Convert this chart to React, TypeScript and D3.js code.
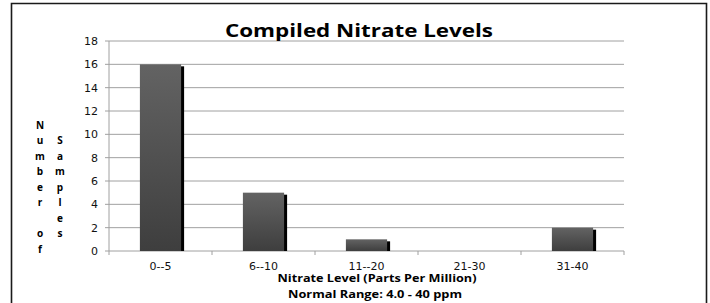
import React from "react";
import * as d3 from "d3";

const categories = ["0--5", "6--10", "11--20", "21-30", "31-40"];
const sampleCounts = [16, 5, 1, 0, 2];
const yTickValues = [0, 2, 4, 6, 8, 10, 12, 14, 16, 18];
const chartTitle = "Compiled Nitrate Levels";
const xTitleLines = ["Nitrate Level (Parts Per Million)", "Normal Range: 4.0 - 40 ppm"];
const yTitleColumns = ["Number of", "Samples"];

const W = 710;
const H = 303;
const plot = { left: 109, right: 624, top: 41, bottom: 251 };

export default function App() {
  const x = d3
    .scaleBand<string>()
    .domain(categories)
    .range([plot.left, plot.right])
    .paddingInner(0.6)
    .paddingOuter(0.3);
  const xBand = d3.scaleBand<string>().domain(categories).range([plot.left, plot.right]);
  const y = d3.scaleLinear().domain([0, 18]).range([plot.bottom, plot.top]);

  const tickFont = "'DejaVu Sans', Verdana, sans-serif";
  const boldFont = "'Open Sans', 'DejaVu Sans', sans-serif";

  const boundaries = categories.map((c) => xBand(c)!).concat([plot.right]);

  // y title stacked letters
  const maxLen = d3.max(yTitleColumns, (s) => s.length)!;
  const rowStep = 15.5;
  const firstRowY = 125;
  const colX = [40, 60];

  return (
    <svg
      width={W}
      height={H}
      style={{ position: "absolute", left: 0, top: 0, background: "#fff" }}
    >
      <defs>
        <linearGradient id="barGrad" x1="0" y1="0" x2="0" y2="1">
          <stop offset="0%" stopColor="#636363" />
          <stop offset="100%" stopColor="#3e3e3e" />
        </linearGradient>
      </defs>
      <rect x={0} y={0} width={W} height={H} fill="#fff" />
      {/* outer frame */}
      <path
        d={`M11.5,${H + 5} L11.5,3.5 L706.5,3.5 L706.5,${H + 5}`}
        fill="none"
        stroke="#1a1a1a"
        strokeWidth={1.6}
      />

      {/* gridlines */}
      {yTickValues.map((t) => (
        <line
          key={"g" + t}
          x1={plot.left}
          x2={plot.right}
          y1={y(t)}
          y2={y(t)}
          stroke="#a0a0a0"
          strokeWidth={1}
        />
      ))}
      {/* y axis */}
      <line x1={plot.left} x2={plot.left} y1={plot.top} y2={plot.bottom} stroke="#a0a0a0" />
      {yTickValues.map((t) => (
        <g key={"yt" + t}>
          <line x1={plot.left - 4} x2={plot.left} y1={y(t)} y2={y(t)} stroke="#a0a0a0" />
          <text
            x={98}
            y={y(t)}
            dy="0.36em"
            textAnchor="end"
            fontFamily={tickFont}
            fontSize={11}
            fill="#111"
          >
            {t}
          </text>
        </g>
      ))}
      {/* x axis ticks */}
      {boundaries.map((b, i) => (
        <line key={"xt" + i} x1={b} x2={b} y1={plot.bottom} y2={plot.bottom + 4} stroke="#a0a0a0" />
      ))}

      {/* bars */}
      {categories.map((c, i) => {
        const v = sampleCounts[i];
        if (v <= 0) return null;
        const bx = x(c)!;
        const bw = x.bandwidth();
        const by = y(v);
        const bh = plot.bottom - by;
        return (
          <g key={"b" + c}>
            <rect x={bx + 3} y={by + 2} width={bw} height={bh - 2} fill="#000" />
            <rect x={bx} y={by} width={bw} height={bh} fill="url(#barGrad)" />
          </g>
        );
      })}

      {/* category labels */}
      {categories.map((c) => (
        <text
          key={"cl" + c}
          x={xBand(c)! + xBand.bandwidth() / 2}
          y={270}
          textAnchor="middle"
          fontFamily={tickFont}
          fontSize={11}
          fill="#111"
        >
          {c}
        </text>
      ))}

      {/* title */}
      <text
        x={359}
        y={37}
        textAnchor="middle"
        fontFamily={boldFont}
        fontWeight="bold"
        fontSize={18}
        textLength={268}
        lengthAdjust="spacingAndGlyphs"
        fill="#000"
      >
        {chartTitle}
      </text>

      {/* x title */}
      <text
        x={377}
        y={282}
        textAnchor="middle"
        fontFamily={boldFont}
        fontWeight="bold"
        fontSize={11}
        textLength={199}
        lengthAdjust="spacingAndGlyphs"
        fill="#000"
      >
        {xTitleLines[0]}
      </text>
      <text
        x={375}
        y={298}
        textAnchor="middle"
        fontFamily={boldFont}
        fontWeight="bold"
        fontSize={11}
        textLength={174}
        lengthAdjust="spacingAndGlyphs"
        fill="#000"
      >
        {xTitleLines[1]}
      </text>

      {/* y title: stacked letters */}
      {yTitleColumns.map((word, ci) => {
        const offset = Math.floor((maxLen - word.length) / 2);
        return word.split("").map((ch, ri) => (
          <text
            key={`yl${ci}-${ri}`}
            x={colX[ci]}
            y={firstRowY + (ri + offset) * rowStep}
            dy="0.35em"
            textAnchor="middle"
            fontFamily={boldFont}
            fontWeight="bold"
            fontSize={10}
            fill="#000"
          >
            {ch}
          </text>
        ));
      })}
    </svg>
  );
}
